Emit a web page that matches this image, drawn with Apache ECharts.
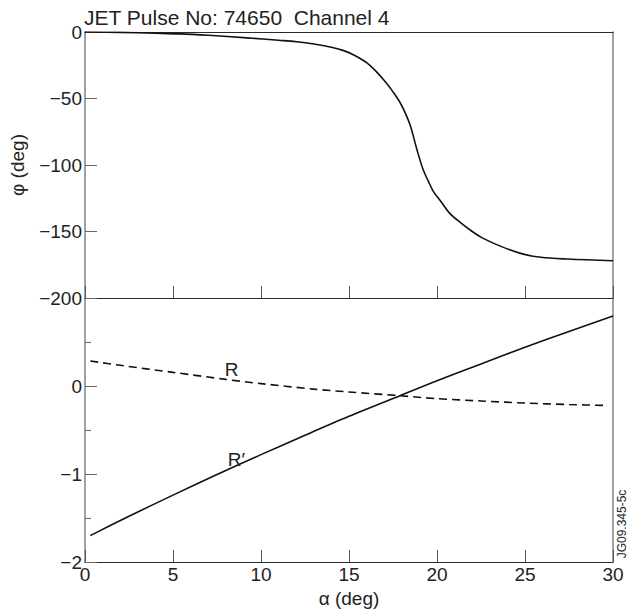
<!DOCTYPE html>
<html><head><meta charset="utf-8">
<script src="https://cdn.jsdelivr.net/npm/echarts@6/dist/echarts.min.js"></script>
<style>html,body{margin:0;padding:0;background:#fff}#c{width:637px;height:615px}</style>
</head><body><div id="c"></div>
<script>
// top panel: phase φ (deg) vs α (deg)
const phiAlpha = [0,2,4,5.4,7,9.2,11,12,13,14,14.7,15.3,16,16.5,17.1,17.5,17.9,18.2,18.5,18.85,19.2,19.5,19.8,20.2,20.7,21.3,22,22.6,23.6,24.9,25.9,27.4,30];
const phiValues = [0,-0.3,-0.9,-1.4,-2.5,-4.4,-6.2,-7.3,-9,-11.5,-14,-17.5,-23,-29,-38,-45,-53,-61,-71,-88,-103,-112,-120,-127,-136,-143,-150,-155,-161,-167,-169.4,-170.7,-172];
// bottom panel: R (dashed) and R' (solid)
const rAlpha = [0.3,2,5,8,10,13,15,17.9,20,22.5,25,27.5,29.7];
const rValues = [0.285,0.235,0.155,0.075,0.027,-0.035,-0.068,-0.11,-0.144,-0.17,-0.194,-0.21,-0.222];
const rpAlpha = [0.3,2.5,5,7.5,10,12.5,15,17.9,20,22.5,25,27.5,30];
const rpValues = [-1.70,-1.48,-1.24,-1.005,-0.78,-0.56,-0.345,-0.11,0.06,0.25,0.44,0.62,0.795];
const xTicks = [0,5,10,15,20,25,30];
const phiTicks = [0,-50,-100,-150,-200];
const rTicks = [0,-1,-2];
const labelR = {text:'R', at:[8.33,0.19]};
const labelRp = {text:'R\u2032', at:[8.6,-0.83]};

const FONT = '"Liberation Sans", Arial, Helvetica, sans-serif';
const TXT = '#222';
const pair = (xs, ys) => xs.map((x,i)=>[x, ys[i]]);
const minus = v => String(v).replace('-', '\u2212');

const chart = echarts.init(document.getElementById('c'), null, {renderer:'svg'});
const darkLine = {onZero:false, lineStyle:{color:'#2a2a2a', width:1.2}};
const greyLine = {onZero:false, lineStyle:{color:'#8a8a8a', width:1.6}};

chart.setOption({
  backgroundColor:'#fff',
  animation:false,
  textStyle:{fontFamily:FONT},
  title:{text:'JET Pulse No: 74650  Channel 4', left:84, top:7, padding:0,
    textStyle:{fontFamily:FONT, fontSize:21, fontWeight:'normal', color:TXT}},
  grid:[
    {left:85, top:32, width:528, height:266},
    {left:85, top:298, width:528, height:264}
  ],
  xAxis:[
    {gridIndex:0, type:'value', min:xTicks[0], max:xTicks[xTicks.length-1], interval:5, position:'bottom',
      axisLine:{show:true, ...darkLine}, axisTick:{show:true, inside:true, length:12, lineStyle:{color:'#555', width:1}},
      axisLabel:{show:false}, splitLine:{show:false}},
    {gridIndex:0, type:'value', min:0, max:30, position:'top',
      axisLine:{show:true, ...darkLine}, axisTick:{show:false}, axisLabel:{show:false}, splitLine:{show:false}},
    {gridIndex:1, type:'value', min:xTicks[0], max:xTicks[xTicks.length-1], interval:5, position:'bottom',
      axisLine:{show:true, ...darkLine}, axisTick:{show:true, inside:true, length:12, lineStyle:{color:'#555', width:1}},
      axisLabel:{show:true, fontSize:19, color:TXT, margin:3, fontFamily:FONT},
      splitLine:{show:false},
      name:'\u03b1 (deg)', nameLocation:'middle', nameGap:27,
      nameTextStyle:{fontSize:19, color:TXT, fontFamily:FONT}}
  ],
  yAxis:[
    {gridIndex:0, type:'value', min:phiTicks[phiTicks.length-1], max:phiTicks[0], interval:50, position:'left',
      axisLine:{show:true, ...greyLine}, axisTick:{show:true, inside:true, length:12, lineStyle:{color:'#666', width:1}},
      axisLabel:{show:true, fontSize:19, color:TXT, margin:3, fontFamily:FONT, formatter:minus},
      splitLine:{show:false},
      name:'\u03c6 (deg)', nameLocation:'middle', nameGap:58, nameRotate:90,
      nameTextStyle:{fontSize:19, color:TXT, fontFamily:FONT}},
    {gridIndex:0, type:'value', min:-200, max:0, position:'right',
      axisLine:{show:true, ...greyLine}, axisTick:{show:false}, axisLabel:{show:false}, splitLine:{show:false}},
    {gridIndex:1, type:'value', min:rTicks[rTicks.length-1], max:1, interval:1, position:'left',
      axisLine:{show:true, ...greyLine}, axisTick:{show:true, inside:true, length:12, lineStyle:{color:'#666', width:1}},
      minorTick:{show:true, splitNumber:2, length:6, lineStyle:{color:'#666', width:1}},
      axisLabel:{show:true, fontSize:19, color:TXT, margin:3, fontFamily:FONT,
        formatter:v => rTicks.indexOf(v) >= 0 ? minus(v) : ''},
      splitLine:{show:false}},
    {gridIndex:1, type:'value', min:-2, max:1, position:'right',
      axisLine:{show:true, ...greyLine}, axisTick:{show:false}, axisLabel:{show:false}, splitLine:{show:false}}
  ],
  series:[
    {type:'line', xAxisIndex:0, yAxisIndex:0, data:pair(phiAlpha, phiValues), smooth:0.35,
      showSymbol:false, lineStyle:{color:'#111', width:1.6}},
    {type:'line', xAxisIndex:2, yAxisIndex:2, data:pair(rAlpha, rValues), smooth:0.3,
      showSymbol:false, lineStyle:{color:'#111', width:1.6, type:[8,5]},
      markPoint:{symbol:'circle', symbolSize:1, itemStyle:{color:'rgba(0,0,0,0)'},
        label:{show:true, position:'inside', formatter:labelR.text, fontSize:19, color:TXT, fontFamily:FONT},
        data:[{coord:labelR.at}]}},
    {type:'line', xAxisIndex:2, yAxisIndex:2, data:pair(rpAlpha, rpValues), smooth:0.3,
      showSymbol:false, lineStyle:{color:'#111', width:1.6},
      markPoint:{symbol:'circle', symbolSize:1, itemStyle:{color:'rgba(0,0,0,0)'},
        label:{show:true, position:'inside', formatter:labelRp.text, fontSize:19, color:TXT, fontFamily:FONT},
        data:[{coord:labelRp.at}]}}
  ],
  graphic:[
    {type:'text', x:622, y:524, rotation:Math.PI/2,
      style:{text:'JG09.345-5c', fontSize:12, fill:TXT, fontFamily:FONT, align:'center', verticalAlign:'middle'}}
  ]
});
</script></body></html>
